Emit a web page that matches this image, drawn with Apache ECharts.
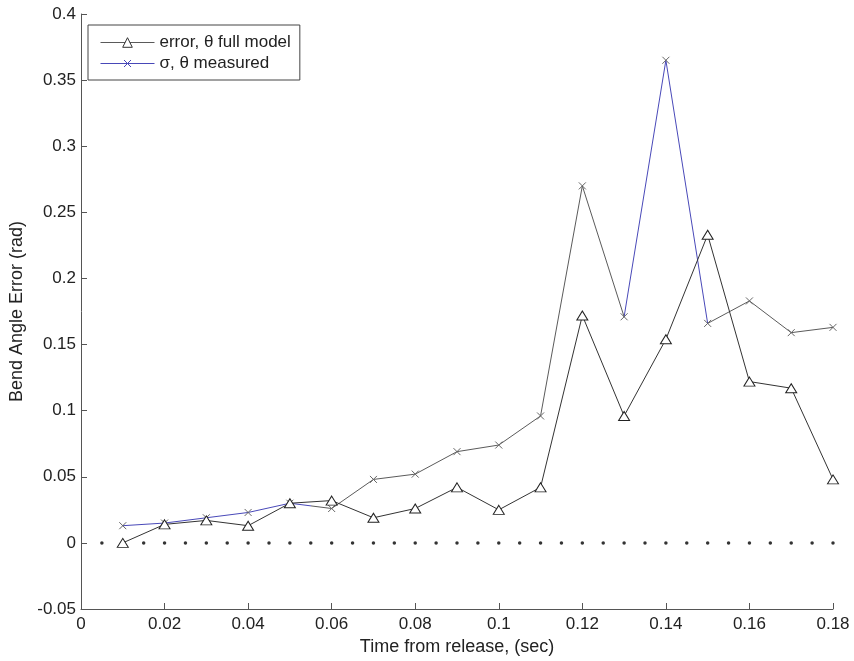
<!DOCTYPE html>
<html>
<head>
<meta charset="utf-8">
<script src="https://cdn.jsdelivr.net/npm/echarts@6/dist/echarts.min.js"></script>
<style>
html,body{margin:0;padding:0;background:#fff;}
#chart{width:854px;height:661px;}
</style>
</head>
<body>
<div id="chart"></div>
<script>
// ---- data ----
var timeValues = [0.01, 0.02, 0.03, 0.04, 0.05, 0.06, 0.07, 0.08, 0.09, 0.10, 0.11, 0.12, 0.13, 0.14, 0.15, 0.16, 0.17, 0.18];
var errorFullModel = [0.000, 0.014, 0.017, 0.013, 0.030, 0.032, 0.019, 0.026, 0.042, 0.025, 0.042, 0.172, 0.096, 0.154, 0.233, 0.122, 0.117, 0.048];
var sigmaMeasured = [0.013, 0.015, 0.019, 0.023, 0.030, 0.026, 0.048, 0.052, 0.069, 0.074, 0.096, 0.270, 0.171, 0.365, 0.166, 0.183, 0.159, 0.163];
var zeroDotsX = [0.005, 0.010, 0.015, 0.020, 0.025, 0.030, 0.035, 0.040, 0.045, 0.050, 0.055, 0.060, 0.065, 0.070, 0.075, 0.080, 0.085, 0.090, 0.095, 0.100, 0.105, 0.110, 0.115, 0.120, 0.125, 0.130, 0.135, 0.140, 0.145, 0.150, 0.155, 0.160, 0.165, 0.170, 0.175, 0.180];
var seriesNames = ['error, \u03b8 full model', '\u03c3, \u03b8 measured'];
var xAxisTitle = 'Time from release, (sec)';
var yAxisTitle = 'Bend Angle Error (rad)';

function pairs(xs, ys) { return xs.map(function (x, i) { return [x, ys[i]]; }); }

var BLUE = '#4848b8';
var GRAY = '#5a5a5a';
var DARK = '#333333';
var FONT = 'Liberation Sans, Arial, sans-serif';
var crossPath = 'path://M0,0L10,10M0,10L10,0';
var legendCrossLine = 'path://M0,0L0,0M54,12L54,12M0,6L54,6M23.5,2.5L30.5,9.5M23.5,9.5L30.5,2.5';

var chart = echarts.init(document.getElementById('chart'), null, { renderer: 'canvas' });
chart.setOption({
  animation: false,
  backgroundColor: '#ffffff',
  grid: { left: 81, right: 21, top: 14, bottom: 52, containLabel: false },
  xAxis: {
    type: 'value', min: 0, max: 0.18, interval: 0.02,
    name: xAxisTitle, nameLocation: 'middle', nameGap: 29,
    nameTextStyle: { fontFamily: FONT, fontSize: 18, color: '#222' },
    axisLine: { onZero: false, lineStyle: { color: '#555', width: 1 } },
    axisTick: { inside: true, length: 6, lineStyle: { color: '#555' } },
    axisLabel: { fontFamily: FONT, fontSize: 17, color: '#222', margin: 7 },
    splitLine: { show: false }
  },
  yAxis: {
    type: 'value', min: -0.05, max: 0.4, interval: 0.05,
    name: yAxisTitle, nameLocation: 'middle', nameGap: 54, nameRotate: 90,
    nameTextStyle: { fontFamily: FONT, fontSize: 18, color: '#222' },
    axisLine: { show: true, onZero: false, lineStyle: { color: '#555', width: 1 } },
    axisTick: { show: true, inside: true, length: 6, lineStyle: { color: '#555' } },
    axisLabel: { fontFamily: FONT, fontSize: 17, color: '#222', margin: 5 },
    splitLine: { show: false }
  },
  legend: {
    left: 88, top: 25, orient: 'vertical',
    backgroundColor: '#fff', borderColor: '#444', borderWidth: 1, borderRadius: 0,
    padding: [9, 9, 8, 10], itemGap: 4, itemWidth: 54, itemHeight: 12,
    textStyle: { fontFamily: FONT, fontSize: 17, color: '#222' },
    data: [
      { name: seriesNames[0], itemStyle: { color: '#fff', borderColor: DARK, borderWidth: 1 }, lineStyle: { color: GRAY, width: 1 } },
      { name: seriesNames[1], icon: legendCrossLine, itemStyle: { color: 'none', borderColor: BLUE, borderWidth: 1 } }
    ]
  },
  visualMap: {
    show: false, type: 'piecewise', dimension: 0, seriesIndex: 1,
    pieces: [
      { lte: 0.055, color: BLUE },
      { gt: 0.055, lte: 0.13, color: GRAY },
      { gt: 0.13, lte: 0.15, color: BLUE },
      { gt: 0.15, color: GRAY }
    ]
  },
  series: [
    {
      name: seriesNames[0], type: 'line', data: pairs(timeValues, errorFullModel),
      symbol: 'triangle', symbolSize: [11, 9], showAllSymbol: true,
      lineStyle: { color: DARK, width: 1 },
      itemStyle: { color: '#fff', borderColor: '#222', borderWidth: 1 },
      z: 3
    },
    {
      name: seriesNames[1], type: 'line', data: pairs(timeValues, sigmaMeasured),
      symbol: crossPath, symbolSize: 7, showAllSymbol: true,
      lineStyle: { width: 1 },
      itemStyle: { borderColor: '#666', borderWidth: 1 },
      z: 2
    },
    {
      name: 'zero', type: 'scatter', data: zeroDotsX.map(function (x) { return [x, 0]; }),
      symbol: 'circle', symbolSize: 3.5, silent: true,
      itemStyle: { color: '#000' }, z: 1
    }
  ]
});
</script>
</body>
</html>
